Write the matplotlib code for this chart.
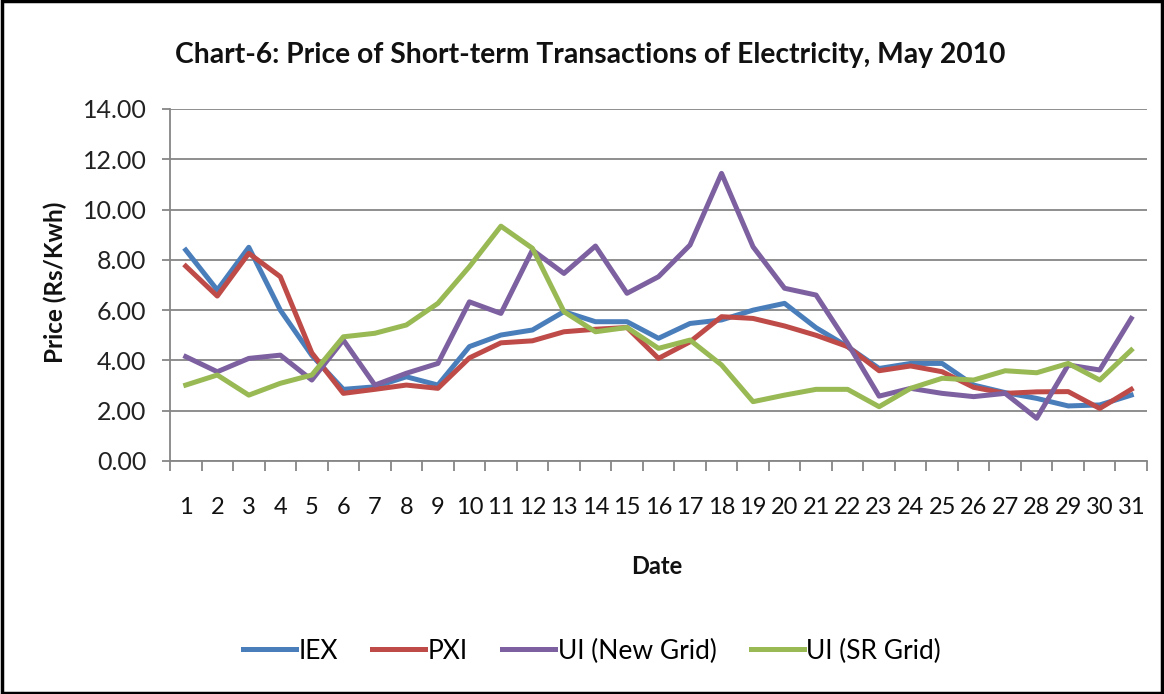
import numpy as np
import matplotlib
matplotlib.use("Agg")
import matplotlib.pyplot as plt
from matplotlib.patches import Rectangle

plt.rcParams['font.family'] = ['Lato', 'DejaVu Sans']

# data (Rs/Kwh), May 2010
days = list(range(1, 32))
iex = [8.39, 6.80, 8.50, 6.00, 4.20, 2.85, 2.95, 3.35, 3.02, 4.55,
       5.01, 5.21, 5.94, 5.54, 5.54, 4.88, 5.47, 5.61, 6.00, 6.27,
       5.30, 4.55, 3.68, 3.88, 3.88, 3.02, 2.72, 2.49, 2.19, 2.23, 2.62]
pxi = [7.75, 6.56, 8.26, 7.33, 4.30, 2.69, 2.85, 3.02, 2.89, 4.10,
       4.70, 4.78, 5.14, 5.24, 5.31, 4.08, 4.74, 5.74, 5.67, 5.37,
       5.00, 4.55, 3.59, 3.78, 3.55, 2.93, 2.69, 2.75, 2.76, 2.09, 2.85]
ui_new = [4.15, 3.55, 4.08, 4.21, 3.22, 4.81, 3.02, 3.49, 3.88, 6.33,
          5.87, 8.39, 7.46, 8.55, 6.67, 7.33, 8.59, 11.44, 8.52, 6.87,
          6.60, 4.68, 2.58, 2.89, 2.69, 2.56, 2.69, 1.70, 3.82, 3.62, 5.67]
ui_sr = [3.02, 3.42, 2.62, 3.09, 3.42, 4.94, 5.08, 5.41, 6.27, 7.73,
         9.34, 8.46, 5.94, 5.14, 5.31, 4.48, 4.81, 3.82, 2.36, 2.62,
         2.85, 2.85, 2.16, 2.89, 3.29, 3.22, 3.59, 3.51, 3.88, 3.22, 4.41]
series = [("IEX", iex, "#4A7EBB"), ("PXI", pxi, "#BE4B48"),
          ("UI (New Grid)", ui_new, "#7D60A0"), ("UI (SR Grid)", ui_sr, "#98B954")]

W, H = 1164, 694
fig = plt.figure(figsize=(W / 100, H / 100), dpi=100)
ax = fig.add_axes([170 / W, 1 - 461 / H, (1147 - 170) / W, (461 - 109) / H])

for name, vals, col in series:
    ax.plot(days, vals, color=col, lw=3.6, label=name, solid_joinstyle='round')

ax.set_xlim(0.5, 31.5)
ax.set_ylim(0, 14)
ax.set_yticks(np.arange(0, 15, 2))
ax.set_yticklabels([f"{v:.2f}" for v in np.arange(0, 15, 2)])
ax.set_xticks(days)
ax.set_xticks(np.arange(0.5, 32, 1), minor=True)
ax.yaxis.grid(True, color="#868686", lw=1.3)
ax.set_axisbelow(True)
for s in ("top", "right"):
    ax.spines[s].set_visible(False)
for s in ("left", "bottom"):
    ax.spines[s].set_color("#868686")
    ax.spines[s].set_linewidth(1.3)
ax.tick_params(axis="y", length=6, color="#868686", width=1.3, pad=11, labelsize=18, labelcolor="#222222")
ax.tick_params(axis="x", which="major", length=0, pad=26, labelsize=17, labelcolor="#111111")
ax.tick_params(axis="x", which="minor", length=7, color="#868686", width=1.3)

fig.text(590 / W, 1 - 55 / H, "Chart-6: Price of Short-term Transactions of Electricity, May 2010",
         ha="center", va="center", fontsize=20.3, fontweight="bold", color="#111111")
fig.text(55 / W, 1 - 282 / H, "Price (Rs/Kwh)", rotation=90, ha="center", va="center",
         fontsize=17.5, fontweight="bold", color="#111111")
fig.text(657 / W, 1 - 567 / H, "Date", ha="center", va="center",
         fontsize=17, fontweight="bold", color="#111111")

fig.legend(loc="center", bbox_to_anchor=(592 / W, 1 - 651 / H), ncol=4, frameon=False,
           fontsize=19, handlelength=2.0, handletextpad=0.1, columnspacing=1.3)

fig.patches.append(Rectangle((0.002, 0.002), 0.996, 0.996, transform=fig.transFigure,
                             fill=False, edgecolor="black", lw=2.5))

fig.savefig("out.png", dpi=100)
